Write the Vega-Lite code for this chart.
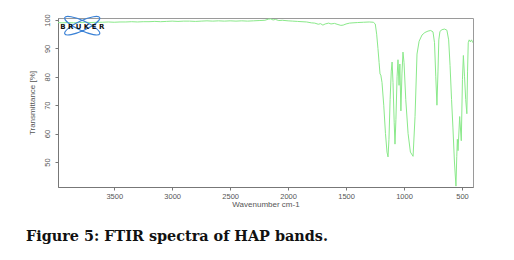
{
  "$schema": "https://vega.github.io/schema/vega-lite/v6.json",
  "width": 415,
  "height": 169,
  "autosize": "none",
  "padding": {"left": 58, "top": 18, "right": 41, "bottom": 73},
  "background": "white",
  "config": {
    "view": {"stroke": "#9a9a9a", "strokeWidth": 1},
    "axis": {"labelFont": "Liberation Sans", "titleFont": "Liberation Sans", "labelColor": "#555", "titleColor": "#555", "labelFontSize": 7.5, "titleFontSize": 8, "titleFontWeight": "normal", "domainColor": "#777", "tickColor": "#777", "grid": false, "tickSize": 3, "labelOverlap": false},
    "axisY": {"labelOverlap": false},
    "axisQuantitative": {"labelOverlap": false}
  },
  "title": {"text": "Figure 5: FTIR spectra of HAP bands.", "orient": "bottom", "anchor": "start", "frame": "group", "dx": -32, "offset": 21, "font": "DejaVu Serif", "fontSize": 14.4, "fontWeight": "bold", "color": "#111"},
  "datasets": {
    "spec": [
      {"w": 3985, "t": 99.1}, {"w": 3950, "t": 99.0}, {"w": 3900, "t": 99.1}, {"w": 3850, "t": 99.0}, {"w": 3800, "t": 99.1},
      {"w": 3750, "t": 99.2}, {"w": 3700, "t": 99.1}, {"w": 3650, "t": 99.2}, {"w": 3600, "t": 99.2}, {"w": 3550, "t": 99.3},
      {"w": 3500, "t": 99.2}, {"w": 3450, "t": 99.3}, {"w": 3400, "t": 99.3}, {"w": 3350, "t": 99.4}, {"w": 3300, "t": 99.3},
      {"w": 3250, "t": 99.4}, {"w": 3200, "t": 99.4}, {"w": 3150, "t": 99.5}, {"w": 3100, "t": 99.4}, {"w": 3050, "t": 99.5},
      {"w": 3000, "t": 99.6}, {"w": 2950, "t": 99.5}, {"w": 2900, "t": 99.6}, {"w": 2850, "t": 99.6}, {"w": 2800, "t": 99.5},
      {"w": 2750, "t": 99.6}, {"w": 2700, "t": 99.7}, {"w": 2650, "t": 99.6}, {"w": 2600, "t": 99.7}, {"w": 2550, "t": 99.6},
      {"w": 2500, "t": 99.7}, {"w": 2450, "t": 99.6}, {"w": 2400, "t": 99.7}, {"w": 2350, "t": 99.6}, {"w": 2300, "t": 99.7},
      {"w": 2250, "t": 99.8}, {"w": 2200, "t": 99.9}, {"w": 2170, "t": 100.3}, {"w": 2150, "t": 100.4}, {"w": 2130, "t": 100.0},
      {"w": 2110, "t": 100.2}, {"w": 2080, "t": 99.8}, {"w": 2050, "t": 99.9}, {"w": 2000, "t": 99.7}, {"w": 1960, "t": 99.6},
      {"w": 1920, "t": 99.5}, {"w": 1880, "t": 99.4}, {"w": 1840, "t": 99.3}, {"w": 1800, "t": 99.0}, {"w": 1770, "t": 98.9},
      {"w": 1740, "t": 98.5}, {"w": 1720, "t": 98.7}, {"w": 1700, "t": 98.2}, {"w": 1680, "t": 98.6}, {"w": 1650, "t": 98.9},
      {"w": 1630, "t": 98.6}, {"w": 1600, "t": 98.8}, {"w": 1570, "t": 98.4}, {"w": 1545, "t": 98.1}, {"w": 1525, "t": 98.2},
      {"w": 1500, "t": 98.6}, {"w": 1470, "t": 98.9}, {"w": 1440, "t": 99.0}, {"w": 1400, "t": 99.1}, {"w": 1350, "t": 99.2},
      {"w": 1300, "t": 99.3}, {"w": 1265, "t": 99.2}, {"w": 1248, "t": 98.6}, {"w": 1236, "t": 95.0}, {"w": 1225, "t": 90.0},
      {"w": 1215, "t": 85.0}, {"w": 1207, "t": 81.0}, {"w": 1200, "t": 80.6}, {"w": 1190, "t": 78.0}, {"w": 1175, "t": 70.0},
      {"w": 1160, "t": 60.0}, {"w": 1147, "t": 53.5}, {"w": 1138, "t": 51.8}, {"w": 1130, "t": 58.0}, {"w": 1120, "t": 72.0},
      {"w": 1110, "t": 82.0}, {"w": 1103, "t": 85.2}, {"w": 1095, "t": 78.0}, {"w": 1085, "t": 64.0}, {"w": 1078, "t": 56.3},
      {"w": 1070, "t": 65.0}, {"w": 1060, "t": 80.0}, {"w": 1052, "t": 86.0}, {"w": 1043, "t": 77.0}, {"w": 1036, "t": 84.5},
      {"w": 1027, "t": 68.0}, {"w": 1018, "t": 81.0}, {"w": 1009, "t": 88.7}, {"w": 1000, "t": 85.0}, {"w": 985, "t": 72.0},
      {"w": 965, "t": 60.0}, {"w": 945, "t": 53.5}, {"w": 922, "t": 52.0}, {"w": 905, "t": 66.0}, {"w": 888, "t": 88.0},
      {"w": 870, "t": 92.5}, {"w": 845, "t": 94.7}, {"w": 820, "t": 95.6}, {"w": 793, "t": 96.1}, {"w": 770, "t": 96.3},
      {"w": 750, "t": 95.8}, {"w": 737, "t": 92.0}, {"w": 726, "t": 80.0}, {"w": 716, "t": 70.0}, {"w": 707, "t": 82.0},
      {"w": 700, "t": 93.0}, {"w": 690, "t": 96.0}, {"w": 672, "t": 96.6}, {"w": 650, "t": 96.8}, {"w": 630, "t": 96.4},
      {"w": 615, "t": 93.0}, {"w": 603, "t": 84.0}, {"w": 590, "t": 72.0}, {"w": 578, "t": 62.0}, {"w": 565, "t": 50.0},
      {"w": 552, "t": 41.5}, {"w": 545, "t": 52.0}, {"w": 540, "t": 58.0}, {"w": 534, "t": 54.0}, {"w": 520, "t": 66.0},
      {"w": 506, "t": 57.5}, {"w": 496, "t": 79.0}, {"w": 488, "t": 87.5}, {"w": 478, "t": 80.0}, {"w": 468, "t": 72.0},
      {"w": 458, "t": 67.0}, {"w": 452, "t": 82.0}, {"w": 446, "t": 92.0}, {"w": 438, "t": 93.0}, {"w": 428, "t": 92.3},
      {"w": 418, "t": 93.0}, {"w": 406, "t": 92.0}
    ],
    "logo": [{"w": 3776, "t": 98.0, "label": "B R U K E R"}]
  },
  "layer": [
    {
      "data": {"name": "spec"},
      "mark": {"type": "line", "color": "#8ae98a", "strokeWidth": 1, "clip": true},
      "encoding": {
        "x": {"field": "w", "type": "quantitative", "scale": {"domain": [405, 3985], "reverse": true, "nice": false, "zero": false},
              "axis": {"title": "Wavenumber cm-1", "values": [500, 1000, 1500, 2000, 2500, 3000, 3500], "format": "d", "labelPadding": 2, "titlePadding": 1, "labelOverlap": false}},
        "y": {"field": "t", "type": "quantitative", "scale": {"domain": [41.2, 100.7], "nice": false, "zero": false},
              "axis": {"title": "Transmittance [%]", "tickCount": 6, "values": [50, 60, 70, 80, 90, 100], "labelAngle": 270, "labelAlign": "center", "labelBaseline": "bottom", "labelPadding": 4, "titlePadding": 7, "labelOverlap": false, "labelFlush": false, "labelBound": false}}
      }
    },
    {
      "data": {"name": "logo"},
      "mark": {"type": "point", "shape": "M-1,-0.46 A1.1,0.28,25,1,0,1,0.46 A1.1,0.28,25,1,0,-1,-0.46 Z M-1,0.46 A1.1,0.28,-25,1,0,1,-0.46 A1.1,0.28,-25,1,0,-1,0.46 Z", "size": 1225, "filled": false, "stroke": "#3b82d6", "strokeWidth": 1.2, "opacity": 1},
      "encoding": {"x": {"field": "w", "type": "quantitative"}, "y": {"field": "t", "type": "quantitative"}}
    },
    {
      "data": {"name": "logo"},
      "mark": {"type": "text", "font": "DejaVu Sans", "fontWeight": "bold", "fontSize": 7, "color": "#111", "align": "center", "baseline": "middle", "dy": 1},
      "encoding": {"x": {"field": "w", "type": "quantitative"}, "y": {"field": "t", "type": "quantitative"}, "text": {"field": "label"}}
    }
  ]
}
